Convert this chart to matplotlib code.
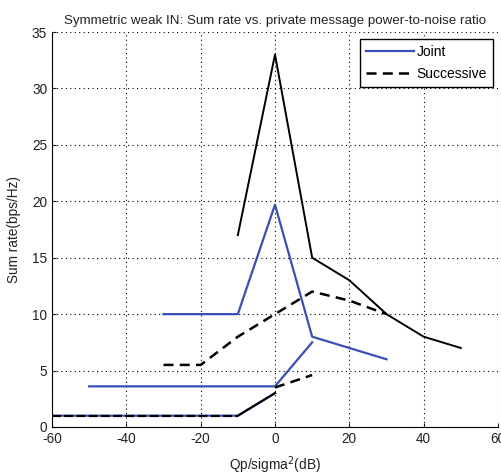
import matplotlib
matplotlib.use("Agg")
import matplotlib.pyplot as plt

plt.rcParams['font.family'] = ['Liberation Sans', 'DejaVu Sans']
plt.rcParams['axes.unicode_minus'] = False

# Joint (blue solid) curves
joint_a_x = [-30, -10, 0, 10, 30]
joint_a_y = [10, 10, 19.7, 8, 6]
joint_b_x = [-50, 0, 10]
joint_b_y = [3.6, 3.6, 7.5]
joint_c_x = [-60, -10, 0]
joint_c_y = [1, 1, 3]

# Successive (black dashed) curves
succ_a_x = [-30, -20, -10, 0, 10, 20, 30]
succ_a_y = [5.5, 5.5, 8, 10, 12, 11.2, 10]
succ_b_x = [0, 10]
succ_b_y = [3.5, 4.6]
succ_c_x = [-60, -10]
succ_c_y = [1, 1]

# Black solid curves
black_a_x = [-10, 0, 10, 20, 30, 40, 50]
black_a_y = [17, 33, 15, 13, 10, 8, 7]
black_b_x = [-10, 0]
black_b_y = [1, 3]

xticks = [-60, -40, -20, 0, 20, 40, 60]
yticks = [0, 5, 10, 15, 20, 25, 30, 35]

fig = plt.figure(figsize=(5.01, 4.75), dpi=100)
ax = fig.add_axes([0.1038, 0.1011, 0.8902, 0.8315])

blue = '#3a4fb5'
ax.plot(joint_a_x, joint_a_y, color=blue, lw=1.6, label='Joint')
ax.plot(succ_a_x, succ_a_y, color='black', lw=1.8, ls=(0, (4, 2.5)), label='Successive')
ax.plot(joint_b_x, joint_b_y, color=blue, lw=1.6)
ax.plot(joint_c_x, joint_c_y, color=blue, lw=1.6)
ax.plot(succ_b_x, succ_b_y, color='black', lw=1.8, ls=(0, (4, 2.5)))
ax.plot(succ_c_x, succ_c_y, color='black', lw=1.6, ls=(0, (4, 1.5)))
ax.plot(black_a_x, black_a_y, color='black', lw=1.4)
ax.plot(black_b_x, black_b_y, color='black', lw=1.5)

ax.set_xlim(-60, 60)
ax.set_ylim(0, 35)
ax.set_xticks(xticks)
ax.set_yticks(yticks)
ax.tick_params(direction='in', length=3, labelsize=9.8, colors='#222222')
ax.grid(True, color='black', ls=(0, (1, 3)), lw=0.8)
ax.spines['top'].set_visible(False)
ax.spines['right'].set_visible(False)

ax.set_title('Symmetric weak IN: Sum rate vs. private message power-to-noise ratio',
             fontsize=9.6, color='#222222', pad=6)
ax.set_xlabel('Qp/sigma$^2$(dB)', fontsize=9.8, color='#222222', labelpad=6)
ax.set_ylabel('Sum rate(bps/Hz)', fontsize=9.8, color='#222222', labelpad=8)

leg = ax.legend(loc='upper right', bbox_to_anchor=(0.989, 0.983), fontsize=10,
                fancybox=False, edgecolor='black', framealpha=1,
                handlelength=3.4, handletextpad=0.2, borderpad=0.45, labelspacing=0.55,
                borderaxespad=0.0)
leg.get_frame().set_linewidth(1.0)

fig.savefig('out.png', dpi=100)
